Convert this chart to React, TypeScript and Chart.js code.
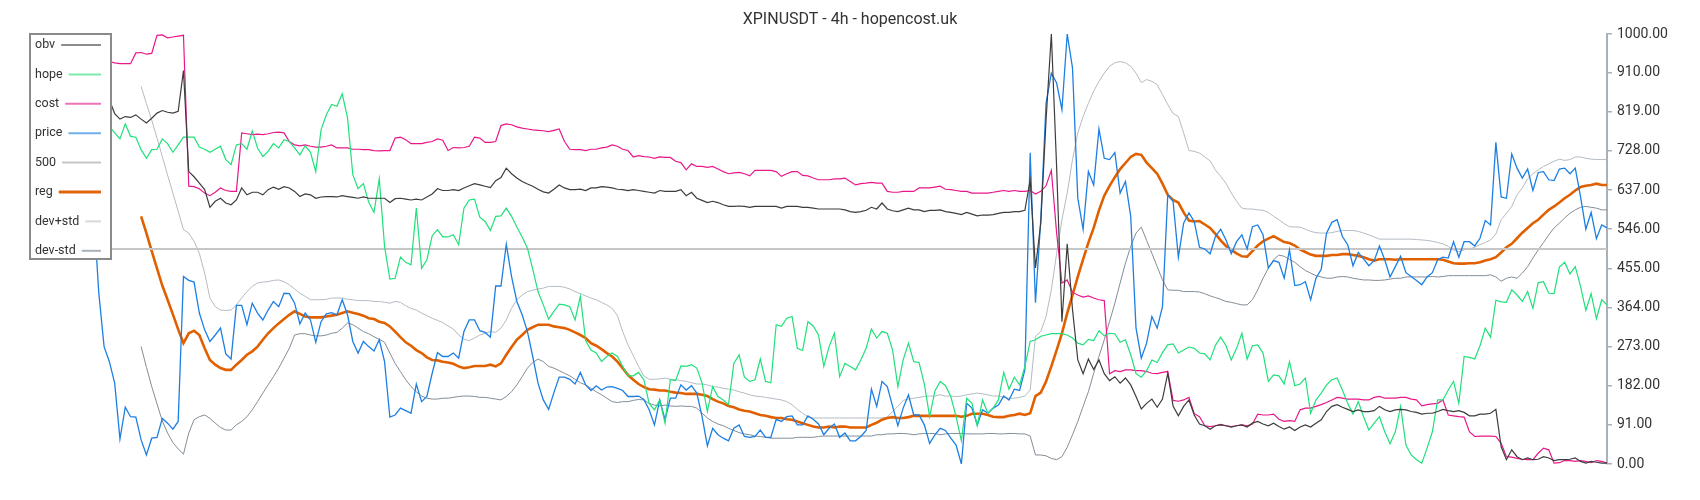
import React, { useEffect, useRef } from "react";
import { Chart, registerables } from "chart.js";

Chart.register(...registerables);

const TITLE = "XPINUSDT - 4h - hopencost.uk";
const SERIES_NAMES = ["obv", "hope", "cost", "price", "500", "reg", "dev+std", "dev-std"];

const Y_TICK_VALUES = [0, 91, 182, 273, 364, 455, 546, 637, 728, 819, 910, 1000];

const price = [
  700, 720, 680, 660, 690, 640, 650, 620, 660, 640,
  610, 650, 595, 398, 273, 238, 188, 58, 132, 110,
  109, 56, 21, 60, 62, 106, 95, 81, 99, 436,
  427, 423, 351, 312, 285, 300, 316, 256, 244, 369,
  369, 324, 374, 351, 335, 358, 378, 366, 397, 396,
  374, 326, 351, 335, 283, 331, 349, 352, 347, 382,
  347, 285, 258, 285, 273, 263, 289, 238, 109, 114,
  130, 124, 118, 186, 145, 157, 211, 259, 250, 250,
  258, 246, 308, 335, 335, 310, 306, 295, 414, 414,
  511, 436, 378, 347, 308, 250, 188, 149, 127, 166,
  202, 202, 197, 186, 213, 184, 171, 182, 172, 179,
  180, 176, 171, 157, 157, 158, 150, 126, 91, 149,
  103, 153, 153, 184, 172, 182, 165, 110, 42, 83,
  68, 60, 54, 83, 91, 64, 62, 64, 79, 62,
  62, 104, 99, 110, 112, 91, 91, 112, 104, 93,
  68, 83, 93, 62, 72, 54, 54, 64, 78, 174,
  134, 192, 180, 134, 89, 130, 161, 114, 114, 91,
  48, 68, 83, 78, 60, 44, 0, 141, 130, 91,
  126, 118, 130, 137, 158, 149, 174, 171, 219, 724,
  375, 568, 839, 909, 886, 824, 1000, 921, 618, 546,
  680, 649, 779, 711, 708, 724, 630, 657, 576, 316,
  246, 281, 343, 316, 366, 626, 611, 481, 560, 584,
  564, 504, 500, 489, 529, 546, 521, 489, 517, 533,
  500, 552, 556, 533, 456, 473, 469, 432, 498, 415,
  417, 424, 382, 432, 453, 537, 562, 568, 529, 510,
  461, 492, 477, 461, 473, 507, 475, 435, 459, 483,
  445, 436, 427, 417, 435, 445, 475, 481, 479, 517,
  481, 517, 517, 507, 525, 566, 556, 748, 621, 618,
  721, 688, 665, 686, 636, 678, 680, 661, 659, 686,
  688, 675, 688, 622, 546, 585, 524, 556, 549,
];

const obv = [
  880, 870, 860, 850, 855, 845, 850, 860, 850, 845,
  840, 850, 845, 850, 848, 847, 815, 802, 808, 806,
  812, 802, 793, 804, 816, 822, 818, 816, 820, 915,
  680, 668, 653, 638, 597, 611, 618, 607, 603, 614,
  642, 626, 632, 632, 626, 638, 644, 639, 645, 642,
  634, 622, 628, 626, 618, 621, 622, 622, 621, 624,
  622, 620, 618, 621, 618, 618, 618, 618, 608, 617,
  618, 616, 614, 616, 614, 621, 628, 640, 636, 636,
  638, 636, 642, 647, 652, 649, 646, 643, 659, 666,
  688, 675, 665, 657, 651, 646, 639, 633, 630, 639,
  649, 642, 638, 638, 639, 636, 642, 642, 645, 644,
  642, 639, 638, 636, 638, 636, 634, 632, 630, 636,
  634, 634, 634, 638, 624, 632, 618, 613, 608, 611,
  608, 603, 599, 599, 600, 599, 597, 599, 599, 599,
  599, 599, 595, 599, 599, 599, 597, 597, 595, 593,
  593, 593, 593, 593, 591, 587, 585, 587, 590, 597,
  593, 607, 593, 589, 587, 591, 595, 591, 591, 587,
  590, 590, 591, 587, 585, 583, 580, 585, 581, 577,
  579, 579, 580, 583, 585, 585, 587, 587, 590, 661,
  456, 560, 800, 1000, 690, 331, 512, 359, 242, 210,
  244, 220, 242, 210, 194, 203, 188, 200, 184, 157,
  128, 141, 151, 132, 151, 211, 135, 112, 134, 149,
  114, 93, 89, 81, 89, 91, 89, 86, 89, 91,
  86, 95, 99, 93, 89, 95, 87, 81, 86, 78,
  86, 91, 86, 95, 103, 122, 134, 138, 132, 127,
  122, 126, 122, 122, 124, 134, 126, 122, 126, 127,
  126, 122, 120, 116, 118, 118, 122, 127, 124, 122,
  124, 120, 112, 112, 116, 116, 118, 127, 40, 10,
  33, 17, 10, 14, 10, 11, 17, 14, 8, 10,
  10, 11, 14, 6, 2, 6, 4, 2, 2,
];

const cost = [
  960, 955, 950, 945, 940, 935, 940, 945, 940, 935,
  938, 942, 940, 937, 936, 936, 933, 931, 931, 931,
  956, 957, 953, 955, 997, 998, 991, 993, 995, 997,
  646, 645, 640, 630, 624, 632, 642, 636, 634, 634,
  770, 768, 766, 767, 766, 768, 771, 772, 770, 750,
  742, 740, 742, 739, 737, 737, 739, 742, 735, 735,
  735, 732, 732, 731, 731, 729, 728, 729, 729, 758,
  760, 754, 745, 745, 745, 748, 750, 756, 753, 729,
  736, 735, 736, 739, 760, 758, 748, 748, 750, 787,
  791, 789, 784, 781, 779, 777, 776, 775, 773, 776,
  779, 750, 732, 731, 731, 729, 732, 732, 735, 737,
  742, 739, 732, 729, 714, 717, 715, 714, 711, 714,
  713, 713, 704, 701, 684, 698, 692, 692, 690, 692,
  686, 680, 675, 677, 678, 675, 670, 683, 683, 683,
  683, 680, 669, 675, 680, 680, 671, 670, 665, 661,
  661, 661, 663, 663, 665, 657, 649, 652, 653, 655,
  653, 653, 634, 632, 632, 634, 634, 634, 642, 642,
  642, 644, 646, 639, 638, 636, 634, 634, 630, 630,
  630, 630, 632, 634, 636, 634, 636, 634, 634, 636,
  628, 634, 647, 683, 537, 421, 428, 399, 393, 388,
  391, 386, 382, 380, 210, 217, 215, 219, 219, 217,
  217, 215, 211, 210, 213, 215, 148, 146, 149, 155,
  117, 110, 89, 87, 89, 92, 89, 87, 89, 91,
  89, 93, 116, 114, 114, 116, 104, 99, 101, 99,
  126, 130, 130, 134, 138, 143, 149, 155, 153, 151,
  151, 151, 149, 149, 155, 157, 153, 153, 153, 155,
  155, 151, 149, 135, 138, 140, 141, 149, 114, 112,
  110, 109, 75, 64, 65, 65, 65, 64, 48, 17,
  16, 13, 11, 10, 10, 25, 37, 33, 2, 3,
  8, 8, 6, 8, 6, 3, 8, 6, 2,
];

const hope = [
  800, 790, 780, 790, 800, 795, 785, 790, 780, 775,
  785, 790, 780, 785, 790, 785, 770, 756, 791, 762,
  760, 731, 711, 731, 732, 756, 745, 725, 742, 760,
  760, 760, 737, 732, 725, 732, 739, 708, 696, 742,
  745, 732, 774, 735, 715, 727, 745, 735, 754, 750,
  735, 719, 740, 725, 680, 777, 812, 836, 832, 861,
  805, 673, 640, 652, 609, 585, 663, 506, 430, 432,
  481, 469, 463, 595, 455, 475, 531, 545, 528, 528,
  533, 510, 595, 614, 616, 574, 564, 543, 576, 577,
  595, 576, 551, 528, 502, 453, 401, 370, 337, 355,
  372, 370, 366, 335, 390, 287, 265, 258, 238, 250,
  258, 250, 227, 205, 205, 213, 196, 141, 126, 149,
  95, 196, 194, 228, 227, 231, 223, 188, 122, 180,
  157, 149, 138, 234, 254, 202, 192, 196, 244, 192,
  189, 324, 320, 339, 343, 269, 264, 331, 321, 300,
  227, 273, 304, 203, 234, 227, 219, 242, 269, 314,
  293, 308, 304, 265, 180, 242, 281, 238, 236, 186,
  110, 170, 192, 182, 157, 110, 54, 153, 141, 89,
  149, 118, 130, 149, 213, 174, 202, 184, 227, 285,
  289, 297, 300, 303, 303, 303, 300, 293, 281, 277,
  290, 287, 310, 298, 304, 303, 283, 289, 254, 210,
  202, 217, 242, 236, 259, 277, 279, 258, 265, 272,
  269, 258, 256, 242, 276, 295, 275, 242, 269, 304,
  244, 275, 277, 258, 192, 207, 205, 186, 238, 182,
  186, 200, 118, 149, 165, 184, 196, 200, 172, 141,
  116, 145, 110, 79, 95, 110, 75, 47, 75, 134,
  44, 21, 10, 2, 37, 75, 149, 149, 172, 192,
  141, 250, 248, 244, 275, 316, 295, 381, 377, 376,
  405, 393, 378, 401, 362, 422, 424, 397, 396, 458,
  469, 442, 459, 413, 357, 396, 338, 382, 370,
];

const N0 = null;
const reg = [
  N0, N0, N0, N0, N0, N0, N0, N0, N0, N0,
  N0, N0, N0, N0, N0, N0, N0, N0, N0, N0,
  N0, 576, 537, 495, 455, 415, 382, 348, 313, 281,
  304, 310, 300, 269, 242, 231, 223, 219, 219, 231,
  242, 254, 262, 273, 289, 304, 316, 327, 337, 347,
  355, 349, 343, 341, 341, 341, 343, 345, 347, 351,
  355, 352, 349, 345, 339, 337, 331, 328, 320, 308,
  295, 283, 275, 265, 258, 248, 242, 241, 238, 236,
  233, 227, 223, 225, 228, 228, 228, 231, 227, 234,
  254, 272, 289, 300, 312, 318, 324, 324, 324, 320,
  318, 316, 312, 306, 300, 293, 281, 275, 267, 258,
  250, 238, 223, 207, 196, 186, 179, 174, 173, 171,
  171, 168, 166, 165, 163, 163, 163, 161, 158, 151,
  145, 141, 135, 132, 127, 124, 122, 118, 114, 112,
  109, 107, 107, 104, 103, 99, 95, 91, 87, 85,
  85, 87, 85, 87, 87, 85, 85, 85, 85, 91,
  96, 103, 107, 109, 107, 107, 109, 112, 112, 112,
  112, 112, 112, 112, 112, 112, 110, 112, 117, 117,
  117, 114, 110, 109, 109, 112, 114, 117, 114, 118,
  158, 166, 192, 227, 265, 304, 351, 393, 436, 476,
  515, 549, 590, 624, 647, 667, 686, 700, 714, 721,
  719, 701, 688, 675, 652, 626, 614, 608, 585, 566,
  564, 565, 557, 549, 535, 520, 507, 498, 490, 483,
  482, 495, 508, 518, 524, 530, 523, 516, 514, 508,
  499, 493, 487, 484, 484, 484, 486, 486, 488, 488,
  486, 484, 481, 476, 473, 476, 476, 476, 475, 476,
  476, 476, 476, 476, 476, 476, 476, 475, 471, 467,
  466, 466, 467, 467, 469, 473, 476, 481, 492, 504,
  512, 525, 538, 549, 560, 568, 580, 591, 599, 608,
  618, 626, 636, 644, 647, 649, 652, 649, 649,
];

const devPlus = [
  N0, N0, N0, N0, N0, N0, N0, N0, N0, N0,
  N0, N0, N0, N0, N0, N0, N0, N0, N0, N0,
  N0, 878, 838, 800, 758, 715, 672, 630, 588, 545,
  537, 518, 490, 444, 386, 366, 358, 357, 358, 370,
  386, 401, 413, 421, 423, 424, 427, 428, 424, 417,
  407, 397, 390, 382, 382, 382, 383, 386, 386, 386,
  383, 382, 380, 380, 380, 378, 378, 376, 374, 378,
  376, 368, 362, 358, 351, 345, 339, 334, 329, 321,
  314, 300, 290, 287, 293, 300, 304, 308, 306, 316,
  335, 362, 382, 393, 401, 404, 407, 409, 413, 413,
  413, 411, 407, 401, 396, 391, 386, 382, 376, 370,
  362, 345, 308, 277, 252, 227, 205, 197, 197, 198,
  200, 197, 196, 194, 192, 189, 186, 186, 184, 180,
  179, 176, 174, 172, 168, 165, 161, 158, 157, 155,
  153, 151, 149, 145, 138, 127, 118, 109, 107, 107,
  107, 107, 107, 107, 107, 107, 107, 107, 107, 107,
  107, 107, 109, 122, 134, 148, 151, 153, 155, 157,
  158, 158, 161, 158, 158, 157, 158, 161, 163, 165,
  163, 161, 158, 158, 155, 153, 153, 155, 158, 172,
  297, 308, 343, 405, 490, 568, 630, 708, 770, 808,
  839, 867, 890, 909, 925, 933, 936, 933, 925, 909,
  887, 894, 890, 882, 859, 836, 815, 808, 770, 729,
  727, 723, 714, 705, 684, 669, 653, 630, 611, 595,
  593, 593, 591, 590, 585, 576, 568, 559, 552, 551,
  551, 546, 541, 538, 537, 537, 538, 541, 543, 543,
  543, 541, 537, 533, 528, 523, 523, 523, 523, 523,
  523, 523, 522, 521, 520, 518, 515, 512, 506, 498,
  494, 498, 500, 504, 510, 515, 521, 535, 568, 583,
  599, 626, 642, 663, 675, 684, 692, 698, 704, 709,
  706, 708, 714, 714, 711, 709, 708, 708, 708,
];

const devMinus = [
  N0, N0, N0, N0, N0, N0, N0, N0, N0, N0,
  N0, N0, N0, N0, N0, N0, N0, N0, N0, N0,
  N0, 273, 225, 180, 140, 100, 72, 50, 35, 23,
  72, 103, 110, 114, 106, 95, 85, 79, 79, 91,
  99, 110, 126, 145, 165, 184, 203, 223, 246, 269,
  300, 303, 303, 300, 298, 298, 300, 304, 306, 316,
  328, 324, 316, 308, 303, 296, 290, 283, 258, 234,
  215, 196, 180, 168, 158, 153, 151, 151, 153, 153,
  155, 157, 158, 158, 157, 155, 155, 153, 151, 149,
  157, 168, 184, 203, 223, 236, 244, 238, 227, 223,
  217, 211, 205, 197, 189, 184, 176, 168, 161, 153,
  145, 143, 145, 145, 148, 150, 149, 141, 137, 135,
  137, 135, 134, 135, 134, 134, 130, 118, 107, 99,
  93, 89, 83, 78, 73, 70, 68, 65, 64, 62,
  60, 60, 60, 60, 60, 62, 62, 62, 62, 64,
  65, 65, 65, 65, 65, 65, 65, 65, 65, 65,
  68, 68, 70, 70, 71, 71, 70, 68, 70, 71,
  71, 71, 68, 70, 71, 71, 71, 70, 70, 70,
  70, 71, 71, 70, 70, 71, 71, 70, 70, 65,
  21, 21, 19, 13, 10, 17, 39, 68, 99, 134,
  168, 211, 250, 289, 331, 374, 421, 467, 506, 537,
  551, 520, 490, 459, 428, 405, 404, 404, 401, 401,
  401, 400, 396, 391, 387, 383, 378, 376, 373, 370,
  370, 382, 405, 432, 455, 475, 486, 483, 476, 469,
  459, 450, 444, 438, 435, 432, 432, 435, 436, 435,
  432, 430, 428, 428, 427, 427, 428, 430, 432, 432,
  435, 435, 435, 435, 435, 436, 435, 436, 438, 438,
  438, 438, 438, 438, 438, 438, 440, 435, 425, 432,
  435, 432, 444, 459, 479, 498, 515, 533, 549, 560,
  572, 583, 591, 597, 599, 597, 595, 591, 591,
];

const candles = price.map((_, i) => String(i));
const level500 = candles.map(() => 500);

const LINE_COLORS = ["#3d3d3d", "#1fe07a", "#e8188a", "#1c7fe3", "#c6c6c6", "#e06000", "#b4bbc3", "#838d97"];
const LEGEND_COLORS = ["#8c8c8c", "#7ceaa8", "#ee74b8", "#70b0ec", "#c6c6c6", "#e0640c", "#d4d9dd", "#a9b1b9"];
const LINE_WIDTHS = [1.2, 1.2, 1.2, 1.3, 2, 2.6, 1, 1];

const overlayPlugin = {
  id: "overlay",
  afterDraw(chart: any) {
    const { ctx, chartArea, width } = chart;
    ctx.save();
    ctx.font = "16px Roboto";
    ctx.fillStyle = "#333333";
    ctx.textAlign = "center";
    ctx.textBaseline = "middle";
    ctx.fillText(TITLE, width / 2, 12);
    const x0 = chartArea.left;
    const y0 = chartArea.top;
    const w = 81;
    const h = 225;
    ctx.fillStyle = "#ffffff";
    ctx.fillRect(x0, y0, w, h);
    ctx.strokeStyle = "#8a8a8a";
    ctx.lineWidth = 2;
    ctx.strokeRect(x0, y0, w, h);
    ctx.font = "12.5px Roboto";
    ctx.textAlign = "left";
    SERIES_NAMES.forEach((name, k) => {
      const y = y0 + 11 + k * 29.4;
      ctx.fillStyle = "#333333";
      ctx.fillText(name, x0 + 5, y);
      const tw = ctx.measureText(name).width;
      ctx.strokeStyle = LEGEND_COLORS[k];
      ctx.lineWidth = k === 5 ? 3 : 2;
      ctx.beginPath();
      ctx.moveTo(x0 + 5 + tw + 6, y);
      ctx.lineTo(x0 + 71, y);
      ctx.stroke();
    });
    ctx.restore();
  },
};

export default function App() {
  const ref = useRef<HTMLCanvasElement | null>(null);
  useEffect(() => {
    if (!ref.current) return;
    const series = [obv, hope, cost, price, level500, reg, devPlus, devMinus];
    const chart = new Chart(ref.current, {
      type: "line",
      data: {
        labels: candles,
        datasets: series.map((d, k) => ({
          label: SERIES_NAMES[k],
          data: d,
          borderColor: LINE_COLORS[k],
          backgroundColor: LINE_COLORS[k],
          borderWidth: LINE_WIDTHS[k],
          pointRadius: 0,
          tension: 0,
          fill: false,
        })),
      },
      options: {
        responsive: false,
        animation: false,
        events: [],
        layout: { padding: { left: 22, top: 26, right: 0, bottom: 28 } },
        plugins: {
          legend: { display: false },
          title: { display: false },
          tooltip: { enabled: false },
        },
        scales: {
          x: { type: "category", display: false, offset: false },
          y: {
            position: "right",
            min: 0,
            max: 1000,
            afterBuildTicks: (scale: any) => {
              scale.ticks = Y_TICK_VALUES.map((v) => ({ value: v }));
            },
            afterFit: (scale: any) => {
              scale.width = 85;
            },
            ticks: {
              callback: (v: any) => Number(v).toFixed(2),
              font: { family: "Roboto", size: 14 },
              color: "#333333",
              padding: 5,
              autoSkip: false,
            },
            grid: {
              drawOnChartArea: false,
              drawTicks: true,
              tickLength: 5,
              color: "#a9b1b8",
              lineWidth: 1.5,
            },
            border: { display: true, color: "#a9b1b8", width: 2 },
          },
        },
      },
      plugins: [overlayPlugin],
    });
    return () => chart.destroy();
  }, []);
  return (
    <div style={{ width: 1684, height: 484 }}>
      <canvas ref={ref} width={1684} height={484} style={{ display: "block" }} />
    </div>
  );
}
